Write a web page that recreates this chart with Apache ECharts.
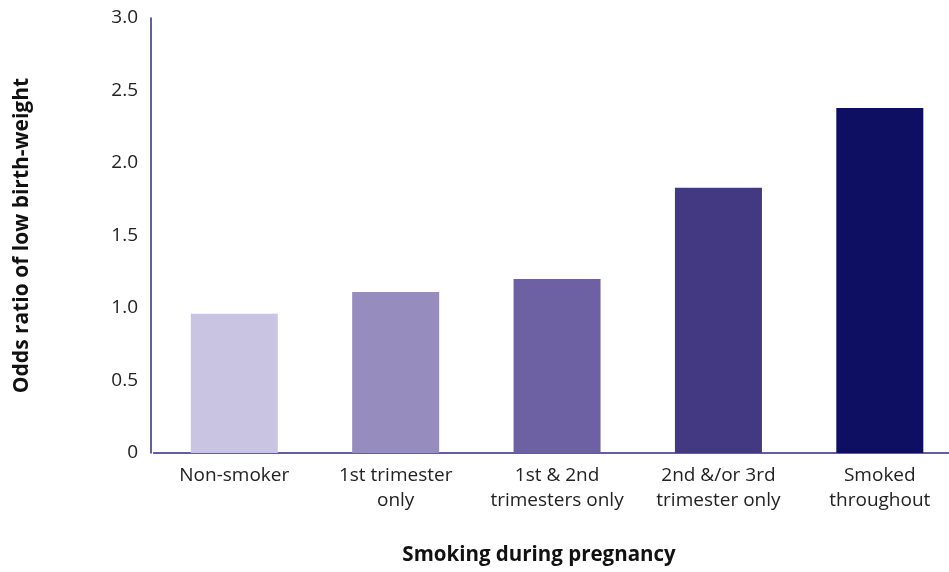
<!DOCTYPE html>
<html>
<head>
<meta charset="utf-8">
<script src="https://cdn.jsdelivr.net/npm/echarts@6/dist/echarts.min.js"></script>
<style>html,body{margin:0;padding:0;background:#fff;}#c{width:949px;height:572px;}</style>
</head>
<body>
<div id="c"></div>
<script>
const categories = ['Non-smoker', '1st trimester\nonly', '1st & 2nd\ntrimesters only', '2nd &/or 3rd\ntrimester only', 'Smoked\nthroughout'];
const oddsRatios = [0.96, 1.11, 1.2, 1.83, 2.38];
const barColors = ['#c9c4e2', '#968cbd', '#6d61a4', '#433982', '#0e0f63'];
const yTicks = [0, 0.5, 1.0, 1.5, 2.0, 2.5, 3.0];

const chart = echarts.init(document.getElementById('c'));
const font = '"Open Sans", "Noto Sans", sans-serif';
chart.setOption({
  animation: false,
  grid: { left: 153.6, right: -11.5, top: 18, bottom: 119, outerBoundsMode: 'none', containLabel: false },
  xAxis: {
    type: 'category',
    data: categories,
    axisLine: { lineStyle: { color: '#2e2b80', width: 1.5 } },
    axisTick: { show: false },
    axisLabel: { color: '#222', fontSize: 19, fontFamily: font, lineHeight: 25, margin: 10, interval: 0, hideOverlap: false },
    name: 'Smoking during pregnancy',
    nameLocation: 'middle',
    nameGap: 92,
    nameTextStyle: { color: '#111', fontSize: 20.5, fontWeight: 'bold', fontFamily: font, padding: [0, 36, 0, 0] }
  },
  yAxis: {
    type: 'value',
    min: 0, max: 3, interval: 0.5,
    offset: 2.6,
    axisLine: { show: true, lineStyle: { color: '#2e2b80', width: 1.5 } },
    axisTick: { show: false },
    splitLine: { show: false },
    axisLabel: { color: '#222', fontSize: 19, fontFamily: font, margin: 13,
      formatter: v => yTicks.includes(v) ? (v === 0 ? '0' : v.toFixed(1)) : '' },
    name: 'Odds ratio of low birth-weight',
    nameLocation: 'middle',
    nameGap: 118,
    nameTextStyle: { color: '#111', fontSize: 21, fontWeight: 'bold', fontFamily: font }
  },
  series: [{
    type: 'bar',
    data: oddsRatios.map((v, i) => ({ value: v, itemStyle: { color: barColors[i] } })),
    barWidth: 87
  }]
});
</script>
</body>
</html>
